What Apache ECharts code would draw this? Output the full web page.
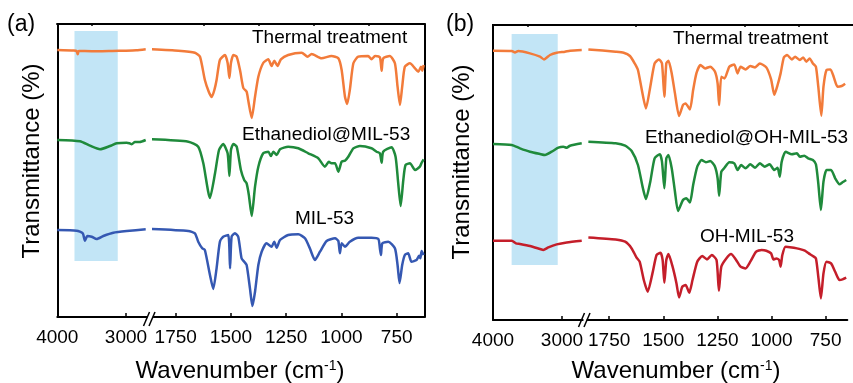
<!DOCTYPE html>
<html>
<head>
<meta charset="utf-8">
<script src="https://cdn.jsdelivr.net/npm/echarts@6.0.0/dist/echarts.min.js"></script>
<style>
  html, body { margin: 0; padding: 0; background: #fff; }
  #chart { width: 853px; height: 383px; }
</style>
</head>
<body>
<div id="chart"></div>
<script>
// FTIR spectra, [wavenumber, transmittance relative to each curve's baseline]
const aThermal = [
  [4000, 0], [3760, -0.5], [3720, -1], [3703, -4.3], [3688, -1], [3600, -1], [3400, -1.3], [3200, -1], [3000, -0.7], [2850, -0.3], [2713, 0.7],
  [1859, 0.7], [1738, -0.7], [1663, -2.7], [1640, -6.7], [1618, -30], [1600, -42], [1587, -47], [1575, -40], [1565, -30], [1550, -10],
  [1527, -5], [1515, -13], [1507, -28], [1500, -13], [1489, -5], [1474, -6.7], [1459, -20], [1444, -38], [1429, -41.7], [1422, -50],
  [1406, -68], [1391, -46.7], [1376, -26.7], [1354, -13], [1331, -9.3], [1316, -16], [1304, -10.7], [1289, -16], [1274, -9.3], [1241, -5],
  [1180, -2.7], [1153, -6.7], [1135, -4], [1090, -8.3], [1045, -6], [1014, -8.3], [999, -20], [984, -46.7], [974, -54], [962, -40],
  [946, -13.3], [924, -6.7], [879, -6], [864, -9.3], [848, -6], [826, -7.3], [818, -20.7], [811, -8.3], [781, -6], [758, -13.3],
  [746, -36.7], [735, -55], [725, -36.7], [713, -16.7], [690, -13.3], [667, -18.3], [652, -21.7], [640, -16.7], [634, -20.7], [628, -15]
];
const aEthanediol = [
  [4000, 0], [3670, -1.3], [3524, -5.7], [3378, -9.3], [3233, -6], [3135, -3.3], [2990, -2.7], [2950, -3.3], [2917, -4.3], [2869, -2], [2800, -2], [2713, 0],
  [1859, 0.7], [1693, -1.7], [1648, -6.7], [1625, -23.3], [1595, -58], [1572, -33.3], [1554, -10], [1535, -4], [1515, -13.3], [1507, -36],
  [1500, -10], [1489, -4], [1474, -6.7], [1455, -30], [1440, -40], [1429, -43.3], [1419, -55], [1406, -76], [1391, -46.7], [1376, -26.7],
  [1354, -13.3], [1331, -11.7], [1319, -16], [1308, -11.7], [1293, -15], [1278, -9.3], [1241, -6.7], [1195, -8.3], [1150, -13.3], [1105, -18.3],
  [1075, -26.7], [1057, -21.7], [1045, -23.3], [1029, -23.3], [1014, -31.7], [999, -21.7], [984, -20.7], [969, -16.7], [946, -8.3], [916, -6],
  [864, -8.3], [841, -11.7], [826, -13.3], [818, -22.7], [811, -11.7], [773, -7.3], [755, -16.7], [743, -43.3], [732, -66], [720, -40],
  [710, -25], [690, -23.3], [667, -30], [645, -26.7], [637, -22.7], [628, -19.3]
];
const aMil53 = [
  [4000, 0], [3718, -0.7], [3630, -3.3], [3597, -10.7], [3563, -6], [3500, -6.7], [3427, -9], [3330, -6], [3185, -2.7], [2990, -1], [2713, 0.7],
  [1859, 1], [1693, -1], [1663, -3.3], [1648, -11.7], [1630, -18.3], [1618, -20], [1595, -45], [1580, -59], [1565, -38.3], [1550, -11.7],
  [1535, -6.7], [1512, -5], [1504, -38.3], [1497, -6.7], [1482, -3.3], [1467, -6.7], [1452, -28.3], [1440, -31.7], [1429, -35], [1414, -58.3],
  [1403, -76], [1391, -61.7], [1376, -35], [1361, -21.7], [1339, -13.3], [1316, -16.7], [1304, -11.7], [1293, -17.7], [1278, -10], [1241, -5],
  [1195, -4.3], [1165, -8.3], [1143, -18.3], [1120, -30], [1097, -21.7], [1067, -11], [1029, -8.3], [1014, -11], [1007, -23.3], [999, -13.3],
  [984, -16.7], [962, -11.7], [924, -7.7], [864, -7.7], [833, -9], [826, -18.3], [821, -25], [815, -13.3], [788, -11.7], [758, -18.3],
  [746, -35], [737, -53], [725, -35], [713, -25], [698, -23.3], [683, -31.7], [660, -30], [649, -25.7], [643, -28.3], [637, -21], [628, -25]
];
const bThermal = [
  [4000, 0], [3729, -0.3], [3681, -1.7], [3633, -0.3], [3464, -2.7], [3319, -6], [3261, -8.7], [3174, -4.3], [3077, -2], [2957, -1], [2884, 0], [2714, 0.7],
  [1846, 1.3], [1720, -1], [1683, -2], [1654, -5.3], [1632, -12.7], [1617, -19.3], [1599, -39.3], [1580, -57.7], [1560, -36], [1540, -12.7],
  [1520, -8.7], [1506, -12.7], [1495, -46], [1486, -12.7], [1476, -10], [1461, -22.7], [1446, -42.7], [1427, -65.3], [1409, -54.3], [1397, -52.7],
  [1377, -58.7], [1362, -39.3], [1347, -22.7], [1328, -14.3], [1306, -17.7], [1283, -16], [1261, -21], [1249, -32.7], [1242, -54.3], [1232, -26],
  [1217, -27.7], [1195, -16], [1172, -13.7], [1157, -22.7], [1143, -16], [1120, -18.7], [1098, -15.3], [1076, -16.7], [1054, -12.7], [1024, -16.7],
  [1002, -28.7], [987, -44], [972, -34.3], [958, -22.7], [943, -6.7], [928, -4.3], [906, -8.7], [891, -6], [869, -9.3], [854, -6.7],
  [839, -11], [824, -7.7], [809, -12.7], [795, -16], [784, -36], [770, -65], [760, -36], [746, -19.3], [728, -18.7], [713, -26],
  [695, -36], [676, -35.3], [660, -33]
];
const bEthanediol = [
  [4000, 0], [3729, -1], [3609, -4.3], [3464, -7.7], [3319, -10], [3246, -11], [3150, -7.7], [3053, -3.7], [2981, -2.7], [2932, -3.7], [2884, -1.7], [2714, 0.7],
  [1846, 2.3], [1720, 0.7], [1676, -1.7], [1646, -7], [1617, -21], [1594, -44.3], [1580, -55], [1560, -37.7], [1540, -14.3], [1516, -10.3],
  [1506, -17.7], [1495, -44.3], [1486, -14.3], [1476, -11], [1461, -24.3], [1446, -47.7], [1432, -67], [1409, -56], [1394, -54.3], [1377, -58.5],
  [1362, -41], [1343, -22.7], [1323, -16], [1303, -18.3], [1283, -17], [1261, -22.7], [1249, -34.3], [1242, -51.7], [1232, -27.7], [1217, -23.7],
  [1195, -18.3], [1172, -19.3], [1157, -26], [1140, -21], [1120, -24.3], [1098, -20.3], [1076, -23.7], [1054, -19.3], [1031, -22.7], [1009, -20.3],
  [987, -26], [972, -23.7], [962, -32.7], [953, -17.7], [935, -7.7], [906, -10.3], [883, -9.3], [869, -12.7], [849, -11.7], [831, -14.3],
  [809, -16], [795, -20.3], [784, -39.3], [772, -66], [760, -37.7], [746, -26], [725, -26], [706, -34.3], [686, -40.3], [672, -38.3], [655, -36]
];
const bOhMil53 = [
  [4000, 0], [3729, 0], [3667, -2.7], [3609, -3.3], [3464, -5.3], [3319, -8.3], [3271, -9.3], [3198, -6.7], [3077, -3.7], [2932, -1.7], [2714, 0],
  [1846, 3.3], [1720, 1.3], [1676, -1], [1646, -7.7], [1624, -16.7], [1609, -21], [1590, -39.3], [1572, -51], [1550, -32.7], [1531, -14.3],
  [1513, -12], [1503, -19.3], [1495, -42], [1486, -19.3], [1476, -13.3], [1457, -26], [1439, -42.7], [1427, -56.7], [1412, -46], [1397, -44.3],
  [1380, -52], [1365, -39.3], [1343, -21], [1320, -15.3], [1298, -18.7], [1276, -14.3], [1254, -19.3], [1243, -50], [1232, -26], [1209, -17.7],
  [1187, -13.3], [1165, -18.7], [1143, -26], [1120, -27.7], [1098, -21], [1071, -11], [1046, -9.3], [1024, -10], [1002, -12.7], [991, -18.7],
  [977, -17.7], [965, -19.3], [958, -26], [950, -14.3], [935, -6], [906, -6.7], [883, -7.7], [864, -8.7], [846, -10], [828, -12.7],
  [809, -15.3], [795, -17.7], [784, -36], [772, -57.7], [760, -32.7], [746, -21], [725, -22.7], [706, -31], [686, -39.3], [672, -38.7], [655, -37]
];

// tick labels for the broken axis
const highTicks = [4000, 3000];
const highMinorTicks = [3500];
const lowTicks = [1750, 1500, 1250, 1000, 750];
const lowMinorTicks = [1625, 1375, 1125, 875];

const ORANGE = '#F27B3A';
const GREEN = '#1F8A3B';
const BLUE = '#3558B2';
const RED = '#C41E2A';
const FONT = 'Arial, "Liberation Sans", sans-serif';

const panels = [
  {
    top: 24, height: 293,
    hi: {left: 57.3, width: 89.3, min: 2700, max: 4000},
    lo: {left: 153.6, width: 270.7, min: 625, max: 1850},
    rightSpine: true,
    band: [3750, 3120, 56, 286],
    curves: [
      {name: 'Thermal treatment', data: aThermal, offset: 267, color: ORANGE},
      {name: 'Ethanediol@MIL-53', data: aEthanediol, offset: 177, color: GREEN},
      {name: 'MIL-53', data: aMil53, offset: 87, color: BLUE},
    ],
  },
  {
    top: 25, height: 295,
    hi: {left: 493, width: 89.7, min: 2700, max: 4000},
    lo: {left: 587.5, width: 270, min: 650, max: 1850},
    rightSpine: false,
    band: [3730, 3062, 55, 286],
    curves: [
      {name: 'Thermal treatment', data: bThermal, offset: 269.3, color: ORANGE},
      {name: 'Ethanediol@OH-MIL-53', data: bEthanediol, offset: 176, color: GREEN},
      {name: 'OH-MIL-53', data: bOhMil53, offset: 79.3, color: RED},
    ],
  },
];

const grid = [];
const xAxis = [];
const yAxis = [];
const series = [];

function addSegment(p, seg, ticks, minorTicks, isHigh) {
  const gi = grid.length;
  grid.push({left: seg.left, top: p.top, width: seg.width, height: p.height, containLabel: false});
  xAxis.push({
    type: 'value', gridIndex: gi, min: seg.min, max: seg.max, inverse: true,
    axisLine: {lineStyle: {color: '#000', width: 2}},
    axisTick: {inside: true, length: 4, customValues: ticks, lineStyle: {color: '#000', width: 1.5}},
    axisLabel: {
      customValues: ticks, fontSize: 19, fontFamily: FONT, color: '#000', margin: 11,
      formatter: v => String(v),
    },
    splitLine: {show: false},
  });
  xAxis.push({
    type: 'value', gridIndex: gi, min: seg.min, max: seg.max, inverse: true,
    axisLine: {show: false},
    axisTick: {inside: true, length: 2, customValues: minorTicks, lineStyle: {color: '#000', width: 1.5}},
    axisLabel: {show: false},
    splitLine: {show: false},
  });
  yAxis.push({
    type: 'value', gridIndex: gi, min: 0, max: p.height,
    position: isHigh ? 'left' : 'right',
    axisLine: {show: isHigh || p.rightSpine, lineStyle: {color: '#000', width: 2}},
    axisTick: {show: false}, axisLabel: {show: false}, splitLine: {show: false},
  });
  const xi = xAxis.length - 2;
  if (isHigh) {
    series.push({
      type: 'line', xAxisIndex: xi, yAxisIndex: gi, data: [], z: 1, silent: true,
      markArea: {
        silent: true,
        itemStyle: {color: 'rgba(173, 220, 243, 0.75)'},
        data: [[{coord: [p.band[0], p.band[2]]}, {coord: [p.band[1], p.band[3]]}]],
      },
    });
  }
  p.curves.forEach(c => {
    const pts = c.data
      .filter(d => (isHigh ? d[0] >= 2600 : d[0] <= 1900))
      .map(d => [d[0], c.offset + d[1]]);
    series.push({
      name: c.name, type: 'line', xAxisIndex: xi, yAxisIndex: gi, data: pts,
      showSymbol: false, smooth: 0.2, z: 3, silent: true,
      lineStyle: {color: c.color, width: 2.5},
    });
  });
}

panels.forEach(p => {
  addSegment(p, p.hi, highTicks, highMinorTicks, true);
  addSegment(p, p.lo, lowTicks, lowMinorTicks, false);
});

function label(text, x, y, size, extra) {
  return Object.assign({
    type: 'text', x, y,
    style: {text, fontSize: size, fontFamily: FONT, fill: '#000', verticalAlign: 'middle'},
  }, extra || {});
}
function frameLine(x1, y1, x2, y2, w) {
  return {type: 'line', shape: {x1, y1, x2, y2}, style: {stroke: '#000', lineWidth: w}};
}
const axisTitle = {
  n: {fontSize: 24, fontFamily: FONT, fill: '#000'},
  s: {fontSize: 14, fontFamily: FONT, fill: '#000', verticalAlign: 'top', padding: [0, 0, 10, 0]},
};

const graphic = [
  frameLine(56.3, 24, 425.3, 24, 2),
  frameLine(492, 25, 853, 25, 2),
  frameLine(143.5, 326, 149.5, 312, 1.5),
  frameLine(149, 326, 155, 312, 1.5),
  frameLine(578.5, 327, 584.5, 313, 1.5),
  frameLine(584, 327, 590, 313, 1.5),
  label('(a)', 7, 25, 23),
  label('(b)', 446, 25, 23),
  label('Thermal treatment', 252, 38, 19),
  label('Ethanediol@MIL-53', 242, 135, 19),
  label('MIL-53', 295, 219, 19),
  label('Thermal treatment', 673, 39, 19),
  label('Ethanediol@OH-MIL-53', 645, 138, 19),
  label('OH-MIL-53', 700, 237, 19),
  {type: 'text', x: 32, y: 161, rotation: Math.PI / 2,
    style: {text: 'Transmittance (%)', fontSize: 24, fontFamily: FONT, fill: '#000', align: 'center', verticalAlign: 'middle'}},
  {type: 'text', x: 462, y: 162, rotation: Math.PI / 2,
    style: {text: 'Transmittance (%)', fontSize: 24, fontFamily: FONT, fill: '#000', align: 'center', verticalAlign: 'middle'}},
  {type: 'text', x: 240, y: 371,
    style: {text: '{n|Wavenumber (cm}{s|-1}{n|)}', rich: axisTitle, align: 'center', verticalAlign: 'middle'}},
  {type: 'text', x: 676, y: 371,
    style: {text: '{n|Wavenumber (cm}{s|-1}{n|)}', rich: axisTitle, align: 'center', verticalAlign: 'middle'}},
];

const chart = echarts.init(document.getElementById('chart'), null, {renderer: 'canvas'});
chart.setOption({
  animation: false,
  backgroundColor: '#fff',
  grid, xAxis, yAxis, series, graphic,
});
</script>
</body>
</html>
